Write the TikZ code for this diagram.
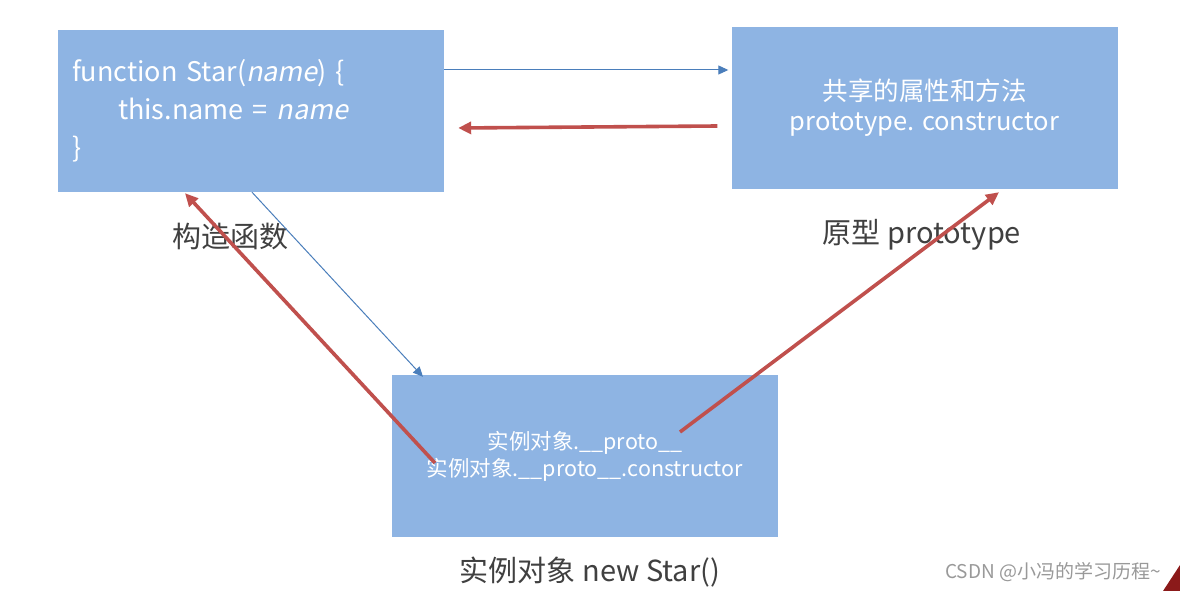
\documentclass[tikz,border=0pt]{standalone}
\usepackage{fontspec}
\setmainfont{Noto Sans CJK SC}[ItalicFont=Noto Sans CJK SC, ItalicFeatures={FakeSlant=0.2}]
\usetikzlibrary{arrows.meta}
\definecolor{BoxBlue}{HTML}{8EB4E3}
\definecolor{FlowBlue}{HTML}{4A7EBB}
\definecolor{BackRed}{HTML}{C0504D}
\definecolor{LabelGray}{HTML}{404040}
\definecolor{MarkGray}{HTML}{999999}
\definecolor{CornerRed}{HTML}{8B1A1A}
\tikzset{
  box/.style={fill=BoxBlue, draw=none, minimum width=386pt,
              minimum height=162pt, inner sep=14pt, text=white},
  caption/.style={text=LabelGray, font=\fontsize{29}{34}\selectfont,
                  inner sep=0pt},
  flow/.style={-{Triangle[length=10pt, width=9pt]}, line width=1pt,
               draw=FlowBlue},
  backflow/.style={-{Triangle[length=13pt, width=12pt]}, line width=3.6pt,
                   draw=BackRed}
}

\begin{document}
\begin{tikzpicture}[x=1pt, y=-1pt]
  \useasboundingbox[fill=white] (0,0) rectangle (1180,591);

  \node[box, align=left, text width=358pt,
        font=\fontsize{27}{38}\selectfont] (ctor) at (251,111)
    {function Star(\textit{name}) \{\\
     \hspace*{46pt}this.name = \textit{name}\\
     \}};

  \node[box, align=center, font=\fontsize{25.5}{30}\selectfont]
    (proto) at (924.5,108)
    {共享的属性和方法\\prototype. constructor};

  \node[box, align=center, font=\fontsize{21.5}{27}\selectfont]
    (inst) at (585,456)
    {实例对象.\_\_proto\_\_\\实例对象.\_\_proto\_\_.constructor};

  \node[caption] (ctorlabel) at (230,237) {构造函数};
  \node[caption] (protolabel) at (922,235) {原型 prototype};
  \node[caption] (instlabel) at (590,572) {实例对象 new Star()};

  \node[text=MarkGray, font=\fontsize{19}{22}\selectfont, inner sep=0pt]
    (mark) at (1053,572) {CSDN @小冯的学习历程\textasciitilde};
  \fill[CornerRed] (1163,591) -- (1180,591) -- (1180,565) -- cycle;

  \draw[flow] ([yshift=41pt]ctor.east) -- ([xshift=-3pt, yshift=38pt]proto.west);
  \draw[backflow] ([xshift=-14pt, yshift=-18pt]proto.west)
    -- ([xshift=14pt, yshift=-17pt]ctor.east);
  \draw[flow] ([xshift=1pt]ctor.south) -- ([xshift=-162pt, yshift=-2pt]inst.north);
  \draw[backflow] ([xshift=-150pt, yshift=-7pt]inst.center)
    -- ([xshift=-66pt, yshift=-1pt]ctor.south);
  \draw[backflow] ([xshift=95pt, yshift=24pt]inst.center)
    -- ([xshift=74.5pt, yshift=-3pt]proto.south);
\end{tikzpicture}
\end{document}
